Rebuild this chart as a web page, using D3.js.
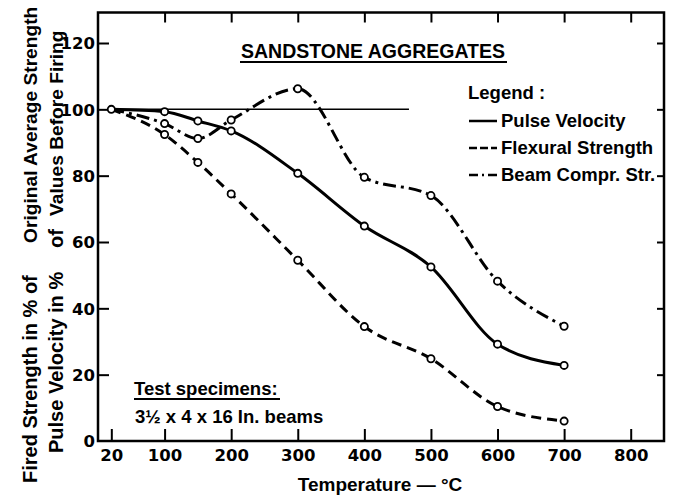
<!DOCTYPE html>
<html>
<head>
<meta charset="utf-8">
<script src="https://cdn.jsdelivr.net/npm/d3@7"></script>
<style>
    body { margin: 0; background: #fff; }
    text { font-family: 'Liberation Sans', Arial, sans-serif; font-weight: 700; fill: #000; }
    .tick-label { font-family: 'DejaVu Sans', sans-serif; }
</style>
</head>
<body>
<div id="chart"></div>
<script>
// temperatures in deg C
const temps = [20, 100, 150, 200, 300, 400, 500, 600, 700];
const pulseVelocity = [100, 99.3, 96.5, 93.5, 80.7, 64.8, 52.5, 29.2, 22.8];
const flexuralStrength = [100, 92.4, 84, 74.5, 54.5, 34.5, 24.8, 10.4, 6];
const beamCompr = [100, 95.7, 91.2, 96.8, 106.2, 79.5, 74, 48.2, 34.6];
const xTicks = [20, 100, 200, 300, 400, 500, 600, 700, 800];
const topTicks = [100, 200, 300, 400, 500, 600, 700, 800];
const yTicks = [0, 20, 40, 60, 80, 100, 120];

const width = 673;
const height = 501;

const x = d3.scaleLinear().domain([0, 850]).range([98, 664]);
const y = d3.scaleLinear().domain([0, 120]).range([441, 43]);
const yTop = 12.5;

const svg = d3
    .select('#chart')
    .append('svg')
    .attr('width', width)
    .attr('height', height);

// frame
svg.append('rect')
    .attr('x', x(0))
    .attr('y', yTop)
    .attr('width', x(850) - x(0))
    .attr('height', y(0) - yTop)
    .attr('fill', 'none')
    .attr('stroke', '#000')
    .attr('stroke-width', 2.5);

// bottom axis, ticks point up
const xAxis = svg.append('g')
    .attr('transform', `translate(0, ${y(0)})`)
    .call(d3.axisBottom(x).tickValues(xTicks).tickSizeInner(-12).tickSizeOuter(0).tickPadding(8));
xAxis.select('.domain').remove();
xAxis.selectAll('line').attr('stroke-width', 2);
xAxis.selectAll('text').attr('class', 'tick-label').attr('font-size', 16.5).attr('fill', '#000');

// top ticks
const topAxis = svg.append('g')
    .attr('transform', `translate(0, ${yTop})`)
    .call(d3.axisTop(x).tickValues(topTicks).tickSize(-10).tickFormat(''));
topAxis.select('.domain').remove();
topAxis.selectAll('line').attr('stroke-width', 2);

// left axis, ticks point right
const yAxis = svg.append('g')
    .attr('transform', `translate(${x(0)}, 0)`)
    .call(d3.axisLeft(y).tickValues(yTicks).tickSizeInner(-11).tickSizeOuter(0).tickPadding(3));
yAxis.select('.domain').remove();
yAxis.selectAll('line').attr('stroke-width', 2);
yAxis.selectAll('text').attr('class', 'tick-label').attr('font-size', 16.5).attr('fill', '#000').attr('dy', '0.36em');
yAxis.selectAll('.tick').filter((d) => d === 0).select('line').remove();

// right ticks
const rightAxis = svg.append('g')
    .attr('transform', `translate(${x(850)}, 0)`)
    .call(d3.axisRight(y).tickValues(yTicks.filter((d) => d > 0)).tickSize(-7).tickFormat(''));
rightAxis.select('.domain').remove();
rightAxis.selectAll('line').attr('stroke-width', 2);

// reference line at 100 %
svg.append('line')
    .attr('x1', x(20))
    .attr('x2', x(467))
    .attr('y1', y(100))
    .attr('y2', y(100))
    .attr('stroke', '#000')
    .attr('stroke-width', 1.5);

const series = [
    { name: 'Pulse Velocity', values: pulseVelocity, dash: null },
    { name: 'Flexural Strength', values: flexuralStrength, dash: '10,6' },
    { name: 'Beam Compr. Str.', values: beamCompr, dash: '13,5,3,5' },
];

const line = d3.line()
    .x((d) => x(d[0]))
    .y((d) => y(d[1]))
    .curve(d3.curveMonotoneX);

series.forEach((s) => {
    const pts = temps.map((t, i) => [t, s.values[i]]);
    svg.append('path')
        .attr('d', line(pts))
        .attr('fill', 'none')
        .attr('stroke', '#000')
        .attr('stroke-width', 3)
        .attr('stroke-dasharray', s.dash);
    svg.selectAll(null)
        .data(pts.slice(1))
        .enter()
        .append('circle')
        .attr('cx', (d) => x(d[0]))
        .attr('cy', (d) => y(d[1]))
        .attr('r', 3.6)
        .attr('fill', '#fff')
        .attr('stroke', '#000')
        .attr('stroke-width', 1.8);
});
svg.append('circle')
    .attr('cx', x(20))
    .attr('cy', y(100))
    .attr('r', 3.6)
    .attr('fill', '#fff')
    .attr('stroke', '#000')
    .attr('stroke-width', 1.8);

// title
svg.append('text')
    .attr('x', 373)
    .attr('y', 58)
    .attr('text-anchor', 'middle')
    .attr('font-size', 19.5)
    .text('SANDSTONE AGGREGATES');
svg.append('line')
    .attr('x1', 240).attr('x2', 507)
    .attr('y1', 62).attr('y2', 62)
    .attr('stroke', '#000').attr('stroke-width', 2);

// legend
svg.append('text')
    .attr('x', 468)
    .attr('y', 99)
    .attr('font-size', 18.5)
    .text('Legend :');
series.forEach((s, i) => {
    const ly = 127 + i * 27;
    svg.append('line')
        .attr('x1', 469).attr('x2', 497)
        .attr('y1', ly - 6).attr('y2', ly - 6)
        .attr('stroke', '#000')
        .attr('stroke-width', 2.5)
        .attr('stroke-dasharray', i === 0 ? null : i === 1 ? '8,3' : '9,4,2,4');
    svg.append('text')
        .attr('x', 501)
        .attr('y', ly)
        .attr('font-size', 18.5)
        .text(s.name);
});

// note
svg.append('text')
    .attr('x', 134)
    .attr('y', 395)
    .attr('font-size', 18.5)
    .text('Test specimens:');
svg.append('line')
    .attr('x1', 134).attr('x2', 280)
    .attr('y1', 399).attr('y2', 399)
    .attr('stroke', '#000').attr('stroke-width', 2);
svg.append('text')
    .attr('x', 135)
    .attr('y', 423)
    .attr('font-size', 18.5)
    .text('3½ x 4 x 16 In. beams');

// axis titles
svg.append('text')
    .attr('x', 380)
    .attr('y', 491)
    .attr('text-anchor', 'middle')
    .attr('font-size', 19)
    .text('Temperature —  °C');

const yTitle = [
    { x: 37, y: 483, size: 20, t: 'Fired Strength in % of' },
    { x: 37, y: 243, size: 19.2, t: 'Original Average Strength' },
    { x: 63, y: 453, size: 20, t: 'Pulse Velocity in %' },
    { x: 63, y: 248, size: 20, t: 'of' },
    { x: 63, y: 216, size: 19.2, t: 'Values Before Firing' },
];
svg.selectAll(null)
    .data(yTitle)
    .enter()
    .append('text')
    .attr('transform', (d) => `translate(${d.x}, ${d.y}) rotate(-90)`)
    .attr('font-size', (d) => d.size)
    .text((d) => d.t);
</script>
</body>
</html>
